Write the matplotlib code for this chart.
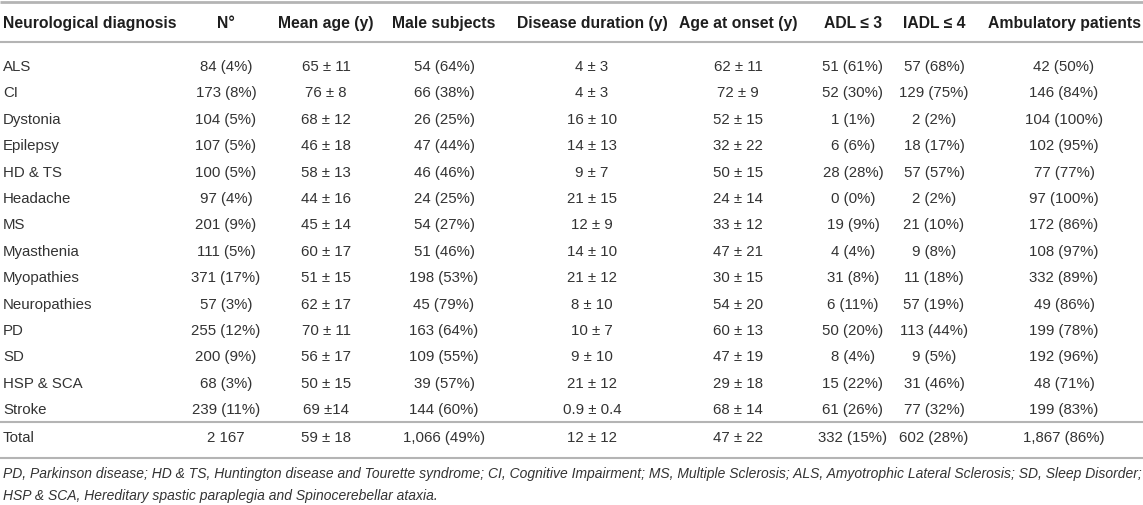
import matplotlib.pyplot as plt

headers = ["Neurological diagnosis", "N°", "Mean age (y)", "Male subjects",
           "Disease duration (y)", "Age at onset (y)", "ADL ≤ 3", "IADL ≤ 4",
           "Ambulatory patients"]

diagnosis = ["ALS", "CI", "Dystonia", "Epilepsy", "HD & TS", "Headache", "MS",
             "Myasthenia", "Myopathies", "Neuropathies", "PD", "SD", "HSP & SCA", "Stroke"]
n_patients = ["84 (4%)", "173 (8%)", "104 (5%)", "107 (5%)", "100 (5%)", "97 (4%)", "201 (9%)",
              "111 (5%)", "371 (17%)", "57 (3%)", "255 (12%)", "200 (9%)", "68 (3%)", "239 (11%)"]
mean_age = ["65 ± 11", "76 ± 8", "68 ± 12", "46 ± 18", "58 ± 13", "44 ± 16", "45 ± 14",
            "60 ± 17", "51 ± 15", "62 ± 17", "70 ± 11", "56 ± 17", "50 ± 15", "69 ±14"]
male = ["54 (64%)", "66 (38%)", "26 (25%)", "47 (44%)", "46 (46%)", "24 (25%)", "54 (27%)",
        "51 (46%)", "198 (53%)", "45 (79%)", "163 (64%)", "109 (55%)", "39 (57%)", "144 (60%)"]
duration = ["4 ± 3", "4 ± 3", "16 ± 10", "14 ± 13", "9 ± 7", "21 ± 15", "12 ± 9",
            "14 ± 10", "21 ± 12", "8 ± 10", "10 ± 7", "9 ± 10", "21 ± 12", "0.9 ± 0.4"]
onset = ["62 ± 11", "72 ± 9", "52 ± 15", "32 ± 22", "50 ± 15", "24 ± 14", "33 ± 12",
         "47 ± 21", "30 ± 15", "54 ± 20", "60 ± 13", "47 ± 19", "29 ± 18", "68 ± 14"]
adl = ["51 (61%)", "52 (30%)", "1 (1%)", "6 (6%)", "28 (28%)", "0 (0%)", "19 (9%)",
       "4 (4%)", "31 (8%)", "6 (11%)", "50 (20%)", "8 (4%)", "15 (22%)", "61 (26%)"]
iadl = ["57 (68%)", "129 (75%)", "2 (2%)", "18 (17%)", "57 (57%)", "2 (2%)", "21 (10%)",
        "9 (8%)", "11 (18%)", "57 (19%)", "113 (44%)", "9 (5%)", "31 (46%)", "77 (32%)"]
ambulatory = ["42 (50%)", "146 (84%)", "104 (100%)", "102 (95%)", "77 (77%)", "97 (100%)", "172 (86%)",
              "108 (97%)", "332 (89%)", "49 (86%)", "199 (78%)", "192 (96%)", "48 (71%)", "199 (83%)"]
total_row = ["Total", "2 167", "59 ± 18", "1,066 (49%)", "12 ± 12", "47 ± 22",
             "332 (15%)", "602 (28%)", "1,867 (86%)"]

footnote = ["PD, Parkinson disease; HD & TS, Huntington disease and Tourette syndrome; CI, Cognitive Impairment; "
            "MS, Multiple Sclerosis; ALS, Amyotrophic Lateral Sclerosis; SD, Sleep Disorder;",
            "HSP & SCA, Hereditary spastic paraplegia and Spinocerebellar ataxia."]

col_x = [3, 226, 326, 444, 592, 738, 853, 934, 1064]
txt = "#333333"
rule = "#b4b4b4"
font = "Liberation Sans"

fig = plt.figure(figsize=(11.43, 5.06), dpi=100)
ax = fig.add_axes([0, 0, 1, 1])
ax.set_xlim(0, 1143)
ax.set_ylim(506, 0)
ax.axis("off")

# header row
for j, h in enumerate(headers):
    ha = "left" if j == 0 else "center"
    ax.text(col_x[j], 23, h, ha=ha, va="center", fontsize=11.3, fontweight="bold",
            color="#1e1e1e", family=font)

# body rows
columns = [diagnosis, n_patients, mean_age, male, duration, onset, adl, iadl, ambulatory]
for i in range(len(diagnosis)):
    y = 67 + i * 26.4
    for j, col in enumerate(columns):
        ha = "left" if j == 0 else "center"
        ax.text(col_x[j], y, col[i], ha=ha, va="center", fontsize=10.8, color=txt, family=font)

for j, v in enumerate(total_row):
    ha = "left" if j == 0 else "center"
    ax.text(col_x[j], 438, v, ha=ha, va="center", fontsize=10.8, color=txt, family=font)

# horizontal rules
for yl, lw in [(3, 2.0), (43, 1.5), (423, 1.5), (459, 1.5)]:
    ax.plot([0, 1143], [yl, yl], color=rule, lw=lw, solid_capstyle="butt")

for k, line in enumerate(footnote):
    ax.text(3, 474 + k * 22, line, ha="left", va="center", fontsize=10, style="italic",
            color=txt, family=font)

fig.savefig("out.png", dpi=100)
